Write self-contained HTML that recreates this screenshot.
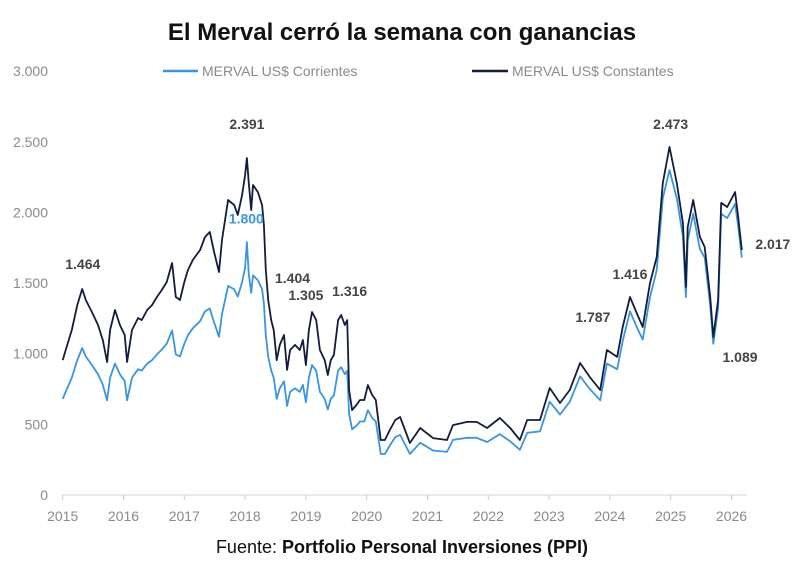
<!DOCTYPE html>
<html><head><meta charset="utf-8"><style>
html,body{margin:0;padding:0;background:#fff;}
svg{display:block;font-family:"Liberation Sans",sans-serif;}
</style></head><body>
<svg id="chart" width="800" height="583" viewBox="0 0 800 583">
<text x="402" y="40" text-anchor="middle" font-size="24" font-weight="bold" fill="#111">El Merval cerró la semana con ganancias</text>
<g>
<line x1="163" y1="71" x2="198" y2="71" stroke="#3a95e0" stroke-width="2.5"/>
<text x="202" y="76" font-size="14" fill="#8a8a8a">MERVAL US$ Corrientes</text>
<line x1="472" y1="71" x2="508" y2="71" stroke="#141c3c" stroke-width="2.5"/>
<text x="512" y="76" font-size="14" fill="#8a8a8a">MERVAL US$ Constantes</text>
</g>
<g id="yaxis"></g>
<g id="xaxis"></g>
<g id="series"></g>
<g id="labels"></g>
<text x="402" y="553" text-anchor="middle" font-size="18" fill="#111">Fuente: <tspan font-weight="bold">Portfolio Personal Inversiones (PPI)</tspan></text>
</svg>
<script>
const yTicks=[0,500,1000,1500,2000,2500,3000];
const yTickLabels=["0","500","1.000","1.500","2.000","2.500","3.000"];
const xTicks=[2015,2016,2017,2018,2019,2020,2021,2022,2023,2024,2025,2026];
const years=[2015.00,2015.05,2015.15,2015.24,2015.32,2015.38,2015.48,2015.58,2015.66,2015.73,2015.78,2015.86,2015.94,2016.02,2016.06,2016.14,2016.24,2016.30,2016.39,2016.47,2016.55,2016.63,2016.71,2016.80,2016.86,2016.93,2017.00,2017.06,2017.14,2017.26,2017.34,2017.42,2017.49,2017.57,2017.62,2017.72,2017.82,2017.88,2017.95,2018.00,2018.03,2018.06,2018.10,2018.13,2018.21,2018.28,2018.31,2018.34,2018.38,2018.43,2018.47,2018.52,2018.57,2018.64,2018.69,2018.74,2018.82,2018.90,2018.95,2019.00,2019.05,2019.10,2019.17,2019.23,2019.31,2019.36,2019.41,2019.46,2019.53,2019.58,2019.64,2019.68,
2019.71,2019.76,2019.83,2019.89,2019.96,2020.02,2020.09,2020.15,2020.20,2020.23,2020.30,2020.38,2020.47,2020.55,2020.71,2020.88,2021.09,2021.32,2021.42,2021.65,2021.81,2021.98,2022.19,2022.36,2022.52,2022.64,2022.85,2023.01,2023.18,2023.34,2023.51,2023.67,2023.84,2023.95,2024.12,2024.21,2024.33,2024.44,2024.54,2024.66,2024.77,2024.87,2024.98,2025.10,2025.20,2025.25,2025.28,2025.37,2025.48,2025.56,2025.65,2025.70,2025.78,2025.83,2025.93,2026.06,2026.11,2026.17];
const constantes=[955,1026,1168,1345,1458,1380,1295,1203,1097,941,1168,1309,1203,1132,941,1168,1253,1238,1309,1345,1401,1451,1507,1642,1401,1380,1507,1592,1663,1734,1826,1861,1720,1578,1805,2088,2052,1982,2123,2265,2385,2215,2017,2194,2144,2052,1911,1592,1380,1238,1168,955,1062,1132,885,1026,1062,1026,1097,920,1168,1295,1238,1026,955,849,955,991,1238,1274,1203,1238,
743,601,637,672,672,778,708,672,495,389,389,460,531,552,368,474,403,389,495,517,517,474,545,474,389,531,531,757,651,743,934,835,743,1026,977,1189,1401,1288,1189,1500,1684,2208,2463,2208,1925,1472,1897,2088,1826,1755,1401,1118,1380,2067,2038,2144,1967,1734];
const corrientes=[680,730,830,955,1040,980,920,855,780,670,830,930,855,805,670,830,890,880,930,955,995,1030,1070,1165,995,980,1070,1130,1180,1230,1300,1320,1220,1120,1280,1480,1455,1405,1505,1610,1790,1570,1430,1555,1520,1455,1355,1130,980,880,830,680,755,805,630,730,755,730,780,655,830,920,880,730,680,605,680,705,880,905,855,880,
575,465,490,520,520,600,545,520,380,290,290,350,410,425,290,370,315,305,390,405,405,375,430,380,320,440,450,660,570,660,840,750,670,930,890,1090,1300,1190,1100,1400,1590,2100,2300,2100,1830,1400,1800,1990,1740,1680,1340,1070,1320,1990,1960,2060,1900,1680];
const annYears=[2015.33,2018.03,2018.02,2018.78,2019.0,2019.72,2023.72,2024.33,2025.0,2026.68,2026.14];
const annVals=[1600,2590,1920,1500,1380,1410,1225,1530,2590,1740,940];
const annText=["1.464","2.391","1.800","1.404","1.305","1.316","1.787","1.416","2.473","2.017","1.089"];
const annBlue=[false,false,true,false,false,false,false,false,false,false,false];

const NS="http://www.w3.org/2000/svg";
const X0=62.7,PXY=60.8,Y0=495,PXV=0.1413;
const xs=y=>X0+(y-2015)*PXY;
const ys=v=>Y0-v*PXV;
function mk(tag,attrs,parent){const e=document.createElementNS(NS,tag);for(const k in attrs)e.setAttribute(k,attrs[k]);parent.appendChild(e);return e;}
const ya=document.getElementById('yaxis'),xa=document.getElementById('xaxis'),se=document.getElementById('series'),lb=document.getElementById('labels');
yTicks.forEach((v,i)=>{const t=mk('text',{x:48,y:ys(v)+5,'text-anchor':'end','font-size':14,fill:'#8a8a8a'},ya);t.textContent=yTickLabels[i];

});
const al=mk('line',{x1:62,y1:Y0,x2:747,y2:Y0,stroke:'#ddd','stroke-width':1.2},xa);


xTicks.forEach(y=>{const tk=mk('line',{x1:xs(y),y1:Y0,x2:xs(y),y2:Y0+5,stroke:'#ccc'},xa);


const t=mk('text',{x:xs(y),y:521,'text-anchor':'middle','font-size':14,fill:'#8a8a8a'},xa);t.textContent=y;

});
function line(vals,color,name){const d=vals.map((v,i)=>(i?'L':'M')+xs(years[i]).toFixed(1)+','+ys(v).toFixed(1)).join('');
const p=mk('path',{d:d,fill:'none',stroke:color,'stroke-width':1.8,'stroke-linejoin':'round'},se);

}
line(corrientes,'#3a95e0','line-corrientes');
line(constantes,'#141c3c','line-constantes');
annText.forEach((s,i)=>{const t=mk('text',{x:xs(annYears[i]),y:ys(annVals[i]),'text-anchor':'middle','font-size':14,'font-weight':'bold',fill:annBlue[i]?'#3a95e0':'#444'},lb);t.textContent=s;

});
</script>
</body></html>
